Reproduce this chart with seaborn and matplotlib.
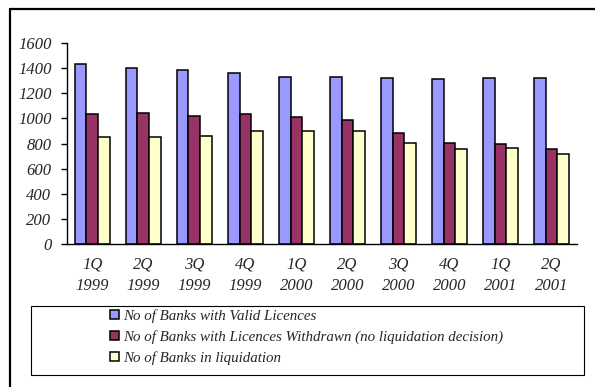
import matplotlib
matplotlib.use("Agg")
import matplotlib.pyplot as plt
from matplotlib.patches import Rectangle, Patch
from matplotlib.lines import Line2D
import numpy as np
import pandas as pd
import seaborn as sns

# Quarterly figures
quarters = ["1Q\n1999", "2Q\n1999", "3Q\n1999", "4Q\n1999", "1Q\n2000",
            "2Q\n2000", "3Q\n2000", "4Q\n2000", "1Q\n2001", "2Q\n2001"]
valid_licences = [1430, 1397, 1386, 1357, 1330, 1330, 1320, 1309, 1320, 1320]
licences_withdrawn = [1032, 1042, 1021, 1032, 1008, 986, 881, 804, 794, 754]
in_liquidation = [849, 849, 860, 902, 902, 902, 804, 754, 762, 719]

series_names = ["No of Banks with Valid Licences",
                "No of Banks with Licences Withdrawn (no liquidation decision)",
                "No of Banks in liquidation"]
series_colors = ["#9999FF", "#993366", "#FFFFCC"]
y_ticks = [0, 200, 400, 600, 800, 1000, 1200, 1400, 1600]

df = pd.DataFrame({
    "quarter": quarters * 3,
    "series": [series_names[0]] * 10 + [series_names[1]] * 10 + [series_names[2]] * 10,
    "banks": valid_licences + licences_withdrawn + in_liquidation,
})

sns.set_style("white")
plt.rcParams["font.family"] = ["Liberation Serif", "DejaVu Serif"]
plt.rcParams["font.style"] = "italic"
TICK_FS = 12
LEG_FS = 10.8

fig = plt.figure(figsize=(5.95, 3.87), dpi=100)
ax = fig.add_axes([66.7 / 595, 1 - 244.3 / 387, (577 - 66.7) / 595, (244.3 - 42.7) / 387])

sns.barplot(data=df, x="quarter", y="banks", hue="series", hue_order=series_names,
            palette=series_colors, width=0.68, edgecolor="black", linewidth=1.1,
            saturation=1, legend=False, ax=ax)

ax.set_xlim(-0.5, len(quarters) - 0.5)
ax.set_ylim(0, 1600)
ax.set_yticks(y_ticks)
ax.set_yticklabels([str(v) for v in y_ticks], fontsize=TICK_FS, style="italic")
ax.set_xticks(range(len(quarters)))
ax.set_xticklabels(quarters, fontsize=TICK_FS, style="italic")
for lab in ax.get_xticklabels():
    lab.set_linespacing(1.4)
ax.set_xticks(np.arange(-0.5, len(quarters)), minor=True)
ax.tick_params(axis="x", which="major", length=0, pad=9)
ax.tick_params(axis="x", which="minor", length=4, width=1, color="black", direction="out")
ax.tick_params(axis="y", length=4, width=1, color="black", direction="out", pad=7, left=True)
ax.set_xlabel("")
ax.set_ylabel("")
for side in ["top", "right"]:
    ax.spines[side].set_visible(False)
for side in ["left", "bottom"]:
    ax.spines[side].set_color("black")
    ax.spines[side].set_linewidth(1.0)

# Legend box and entries
W, H = 595, 387
fig.patches.append(Rectangle((30.7 / W, 1 - 375 / H), (584 - 30.7) / W, (375 - 306) / H,
                             transform=fig.transFigure, fill=False, edgecolor="black",
                             linewidth=0.8))
handles = [Patch(facecolor=c, edgecolor="black", linewidth=1.1) for c in series_colors]
fig.legend(handles, series_names, loc="upper left", bbox_to_anchor=(107 / W, 1 - 306 / H),
           frameon=False, prop={"style": "italic", "size": LEG_FS},
           handlelength=0.6, handleheight=0.6, handletextpad=0.25, labelspacing=0.47,
           borderpad=0.2, borderaxespad=0)

# Outer frame along top and left edges
fig.add_artist(Line2D([10 / W, 1.0], [1 - 9 / H, 1 - 9 / H], transform=fig.transFigure,
                      color="black", linewidth=1.6))
fig.add_artist(Line2D([10 / W, 10 / W], [0, 1 - 9 / H], transform=fig.transFigure,
                      color="black", linewidth=1.6))

fig.savefig("out.png", dpi=100)
